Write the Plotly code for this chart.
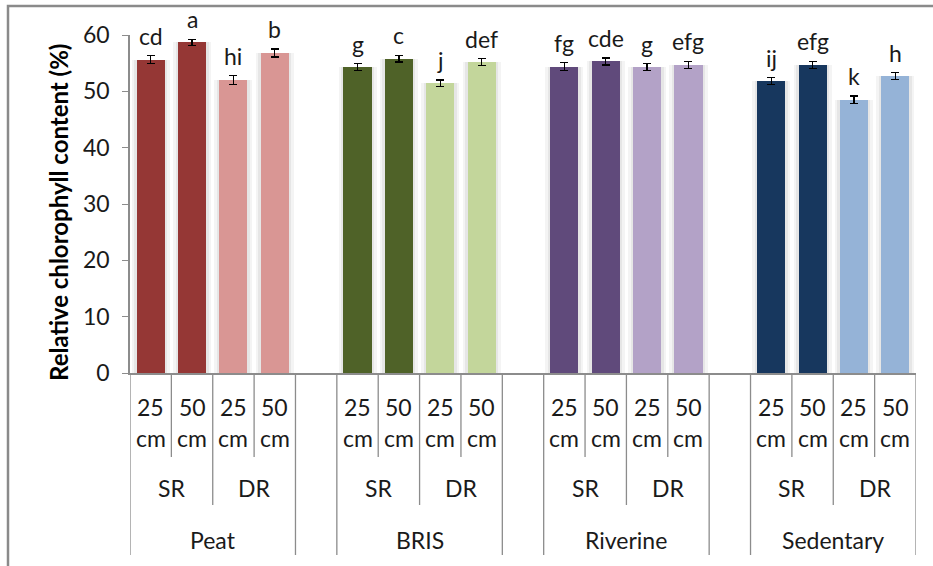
import plotly.graph_objects as go

# ---- data ----
soils = ["Peat", "BRIS", "Riverine", "Sedentary"]
regimes = ["SR", "DR"]
depths = ["25", "50"]
values = [
    [55.6, 58.7, 52.0, 56.8],   # Peat
    [54.3, 55.8, 51.4, 55.2],   # BRIS
    [54.4, 55.3, 54.3, 54.7],   # Riverine
    [51.8, 54.7, 48.5, 52.7],   # Sedentary
]
errors = [
    [0.7, 0.55, 0.75, 0.7],
    [0.6, 0.6, 0.6, 0.6],
    [0.7, 0.6, 0.6, 0.65],
    [0.6, 0.6, 0.65, 0.6],
]
letters = [
    ["cd", "a", "hi", "b"],
    ["g", "c", "j", "def"],
    ["fg", "cde", "g", "efg"],
    ["ij", "efg", "k", "h"],
]
colors = [
    ["#953735", "#953735", "#D99694", "#D99694"],
    ["#4F6228", "#4F6228", "#C3D69B", "#C3D69B"],
    ["#604A7B", "#604A7B", "#B3A2C7", "#B3A2C7"],
    ["#17375E", "#17375E", "#95B3D7", "#95B3D7"],
]

FONT = "Lato"
TXT = "#1a1a1a"
AX = "#8c8c8c"

# layout geometry (pixels)
W, H = 933, 566
ML, MR, MT, MB = 130, 17, 35, 193
PH = H - MT - MB
PW = W - ML - MR


def py(p):
    """pixel y -> paper y"""
    return (H - MB - p) / PH


def px(p):
    return (p - ML) / PW


xs, ys, es, cs, ls = [], [], [], [], []
for g in range(len(soils)):
    for j in range(4):
        xs.append(g * 5 + j)
        ys.append(values[g][j])
        es.append(errors[g][j])
        cs.append(colors[g][j])
        ls.append(letters[g][j])

fig = go.Figure()
# soft shadow layers
fig.add_trace(go.Bar(x=xs, y=ys, width=0.92, marker=dict(color="#f4f4f4", line=dict(width=0)),
                     hoverinfo="skip", showlegend=False))
fig.add_trace(go.Bar(x=xs, y=ys, width=0.8, marker=dict(color="#e6e6e6", line=dict(width=0)),
                     hoverinfo="skip", showlegend=False))
fig.add_trace(go.Bar(
    x=xs, y=ys, width=0.68,
    marker=dict(color=cs, line=dict(width=0)),
    error_y=dict(type="data", array=es, visible=True, color="black", thickness=1.3, width=4),
    showlegend=False,
))

annotations = []
for x, y, e, t in zip(xs, ys, es, ls):
    annotations.append(dict(x=x, y=y + e, xref="x", yref="y", text=t, showarrow=False,
                            xanchor="center", yanchor="bottom", yshift=4,
                            font=dict(family=FONT, size=23, color=TXT)))

CAT = dict(family=FONT, size=23, color=TXT)
shapes = []
line_style = dict(color=AX, width=1.3)
for g in range(len(soils)):
    base = g * 5
    for j in range(4):
        annotations.append(dict(x=base + j, y=py(407), xref="x", yref="paper", text=depths[j % 2],
                                showarrow=False, xanchor="center", yanchor="middle", font=CAT))
        annotations.append(dict(x=base + j, y=py(438), xref="x", yref="paper", text="cm",
                                showarrow=False, xanchor="center", yanchor="middle", font=CAT))
    for r in range(2):
        annotations.append(dict(x=base + 2 * r + 0.5, y=py(488), xref="x", yref="paper", text=regimes[r],
                                showarrow=False, xanchor="center", yanchor="middle", font=CAT))
    annotations.append(dict(x=base + 1.5, y=py(540), xref="x", yref="paper", text=soils[g],
                            showarrow=False, xanchor="center", yanchor="middle", font=CAT))
    for b, bottom in [(base - 0.5, 555), (base + 0.5, 457), (base + 1.5, 505), (base + 2.5, 457), (base + 3.5, 555)]:
        shapes.append(dict(type="line", xref="x", yref="paper", x0=b, x1=b, y0=0, y1=py(bottom),
                           line=line_style))

# outer chart border
shapes.append(dict(type="rect", xref="paper", yref="paper", x0=px(8), x1=px(945), y0=py(580), y1=py(6),
                   line=dict(color="#8a8a8a", width=2.5)))

annotations.append(dict(x=px(58), y=py(213), xref="paper", yref="paper",
                        text="<b>Relative chlorophyll content (%)</b>",
                        textangle=-90, showarrow=False, xanchor="center", yanchor="middle",
                        font=dict(family=FONT, size=24, color="black")))

fig.update_layout(
    width=W, height=H,
    margin=dict(l=ML, r=MR, t=MT, b=MB),
    paper_bgcolor="white", plot_bgcolor="white",
    barmode="overlay", bargap=0,
    font=dict(family=FONT, size=22, color=TXT),
    xaxis=dict(range=[-0.5, 18.5], showticklabels=False, showgrid=False, zeroline=False,
               showline=True, linecolor=AX, linewidth=1.5, ticks=""),
    yaxis=dict(range=[0, 60], dtick=10, showgrid=False, zeroline=False, showline=True,
               linecolor=AX, linewidth=1.5, ticks="outside", ticklen=6, tickcolor=AX,
               ticklabelstandoff=8,
               tickfont=dict(family=FONT, size=23, color=TXT)),
    annotations=annotations, shapes=shapes,
)

fig.write_html("out.html")
